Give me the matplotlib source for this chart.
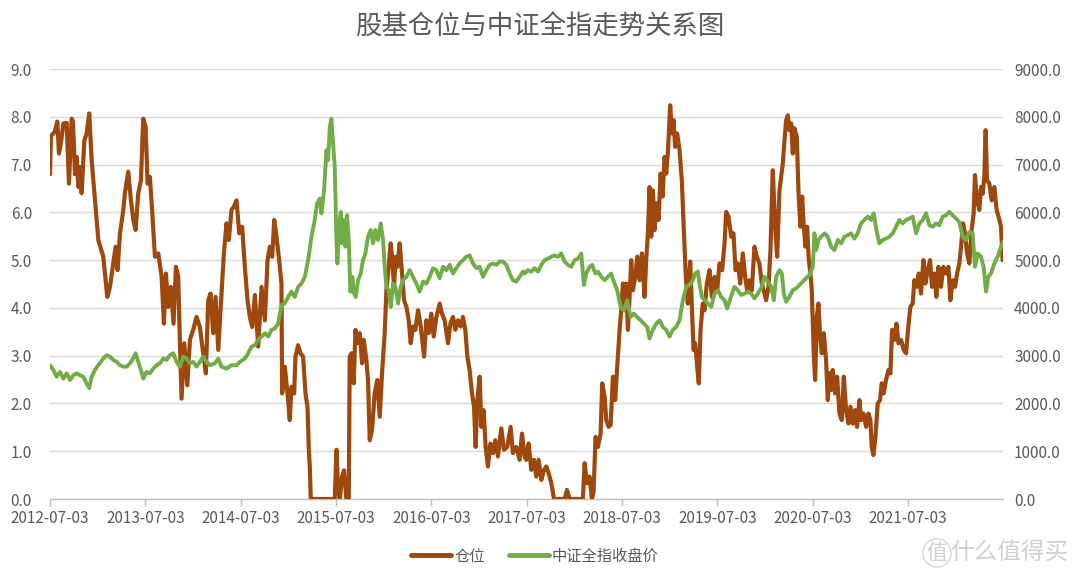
import matplotlib
matplotlib.use("Agg")
import matplotlib.pyplot as plt
from matplotlib.ticker import FormatStrFormatter, FixedLocator

plt.rcParams['font.family'] = ['Noto Sans CJK SC', 'DejaVu Sans']

title = "股基仓位与中证全指走势关系图"
series_names = ["仓位", "中证全指收盘价"]
x_tick_pos = [0, 1, 2, 3, 4, 5, 6, 7, 8, 9]  # years since 2012-07-03
x_tick_labels = ["2012-07-03", "2013-07-03", "2014-07-03", "2015-07-03", "2016-07-03",
                 "2017-07-03", "2018-07-03", "2019-07-03", "2020-07-03", "2021-07-03"]

# 仓位 (left axis) - time in years since 2012-07-03
pos_t = [0.000, 0.010, 0.035, 0.052, 0.077, 0.094, 0.115, 0.140, 0.175, 0.199, 0.227, 0.241, 0.262, 0.280,
         0.297, 0.314, 0.332, 0.360, 0.384, 0.412, 0.437, 0.472, 0.507, 0.559, 0.601, 0.629, 0.664, 0.688,
         0.709, 0.734, 0.769, 0.786, 0.821, 0.849, 0.874, 0.898, 0.926, 0.954, 0.978, 1.003, 1.024, 1.048,
         1.073, 1.101, 1.136, 1.171, 1.195, 1.216, 1.240, 1.268, 1.296, 1.321, 1.345, 1.363, 1.380, 1.408,
         1.440, 1.468, 1.502, 1.537, 1.572, 1.607, 1.635, 1.660, 1.684, 1.712, 1.737, 1.765, 1.799, 1.824,
         1.852, 1.876, 1.904, 1.929, 1.957, 1.985, 2.016, 2.044, 2.072, 2.096, 2.121, 2.149, 2.184, 2.219,
         2.254, 2.282, 2.306, 2.331, 2.352, 2.376, 2.404, 2.428, 2.435,
         2.463, 2.498, 2.515, 2.533, 2.561, 2.575, 2.603, 2.627, 2.655, 2.680, 2.701, 2.715, 2.725, 2.736,
         2.987, 3.005, 3.022, 3.040, 3.064, 3.085, 3.109, 3.134, 3.144, 3.162, 3.186, 3.204, 3.225, 3.249,
         3.274, 3.291, 3.319, 3.336, 3.354, 3.378, 3.406, 3.434, 3.459, 3.483, 3.511, 3.529, 3.546, 3.574,
         3.588, 3.609, 3.626, 3.644, 3.668, 3.693, 3.714, 3.739, 3.763, 3.784, 3.808, 3.833, 3.861, 3.889,
         3.924, 3.948, 3.972, 4.000, 4.025, 4.053, 4.088, 4.112, 4.140, 4.175, 4.200, 4.227, 4.252, 4.280,
         4.308, 4.332, 4.357, 4.378, 4.402, 4.427, 4.448, 4.465, 4.483, 4.507, 4.525, 4.549, 4.570, 4.594,
         4.619, 4.647, 4.671, 4.699, 4.734, 4.762, 4.797, 4.832, 4.856, 4.891, 4.926, 4.951, 4.979,
         4.996, 5.021, 5.049, 5.077, 5.101, 5.126, 5.154, 5.182, 5.206, 5.231, 5.259, 5.287, 5.398, 5.423,
         5.451, 5.590, 5.608, 5.632, 5.660, 5.685, 5.702, 5.723, 5.748, 5.776, 5.793, 5.818, 5.835, 5.860,
         5.881, 5.905, 5.929, 5.950, 5.975, 5.992, 6.010, 6.027, 6.045, 6.062, 6.080, 6.097, 6.115, 6.139,
         6.160, 6.184, 6.209, 6.237, 6.254, 6.272, 6.289, 6.307, 6.324, 6.342, 6.363, 6.384, 6.405, 6.426,
         6.447, 6.464, 6.481, 6.506, 6.523, 6.541, 6.558, 6.579, 6.604, 6.628, 6.649, 6.670, 6.691, 6.716,
         6.733, 6.751, 6.768, 6.789, 6.806, 6.824, 6.848, 6.866, 6.890, 6.918, 6.943, 6.971, 6.999, 7.023,
         7.051, 7.076, 7.093, 7.118, 7.146, 7.170, 7.191, 7.216, 7.240, 7.268, 7.292, 7.313, 7.338, 7.362,
         7.390, 7.414, 7.442, 7.467, 7.495,
         7.512, 7.537, 7.558, 7.582, 7.607, 7.628, 7.652, 7.670, 7.687, 7.705, 7.722, 7.740, 7.757, 7.775,
         7.792, 7.809, 7.834, 7.851, 7.872, 7.890, 7.907, 7.925, 7.942, 7.960, 7.977, 7.991, 8.012, 8.026,
         8.044, 8.061, 8.079, 8.096, 8.117, 8.141, 8.159, 8.176, 8.194, 8.211, 8.236, 8.257, 8.281, 8.306,
         8.327, 8.351, 8.376, 8.397, 8.421, 8.445, 8.466, 8.491, 8.508, 8.533, 8.561, 8.585, 8.606, 8.620,
         8.638, 8.659, 8.683, 8.707, 8.725, 8.746, 8.770, 8.795, 8.816, 8.833, 8.858, 8.879, 8.900, 8.928,
         8.956, 8.980, 9.004, 9.025, 9.050, 9.067, 9.092, 9.113, 9.137, 9.162, 9.183, 9.207, 9.232, 9.252,
         9.277, 9.298, 9.319, 9.347, 9.371, 9.399, 9.424, 9.445, 9.469, 9.494, 9.515, 9.539, 9.557, 9.578,
         9.599, 9.620, 9.644, 9.668, 9.689, 9.703, 9.724, 9.749, 9.766, 9.784, 9.801, 9.815, 9.829, 9.854,
         9.878, 9.906, 9.930, 9.951, 9.976, 9.993]
pos_v = [6.8, 7.6, 7.65, 7.7, 7.9, 7.23, 7.45, 7.86, 7.87, 6.6, 7.96, 7.9, 6.8, 7.16,
         6.53, 6.95, 6.4, 7.5, 7.65, 8.07, 7.09, 6.25, 5.42, 5.07, 4.23, 4.44, 4.93, 5.28,
         4.79, 5.56, 6.05, 6.4, 6.85, 6.25, 5.84, 5.63, 6.4, 6.67, 7.96, 7.79, 6.6, 6.74,
         5.98, 5.07, 5.14, 4.65, 3.67, 4.72, 4.02, 4.44, 3.67, 4.86, 4.65, 3.26, 2.1, 3.26,
         2.38, 3.33, 3.54, 3.81, 3.6, 3.05, 2.63, 4.16, 4.3, 3.47, 4.23, 3.12, 4.3, 5.14,
         5.77, 5.42, 6.05, 6.12, 6.25, 5.56, 5.7, 4.86, 4.16, 3.81, 3.6, 4.27, 3.19, 4.44,
         3.74, 5.0, 5.28, 5.07, 5.84, 5.49, 5.0, 4.51, 2.21,
         2.77, 2.07, 1.65, 2.35, 2.21, 2.98, 3.22, 3.05, 2.98, 2.21, 1.93, 1.03, 0.68, 0.0,
         0.0, 1.03, 0.2, 0.0, 0.47, 0.6, 0.0, 0.0, 2.98, 3.05, 2.42, 3.54, 3.26, 3.47,
         2.84, 3.33, 2.91, 2.49, 1.23, 1.44, 2.21, 2.49, 1.72, 2.63, 3.47, 4.37, 4.72, 5.35,
         5.07, 4.44, 5.07, 4.86, 5.35, 4.72, 4.16, 4.02, 3.74, 3.26, 3.61, 3.54, 3.95, 3.61,
         2.98, 3.74, 3.47, 3.88, 3.4, 3.81, 4.09, 3.88, 3.74, 3.26, 3.67, 3.81, 3.54, 3.74,
         3.61, 3.81, 3.54, 2.98, 2.7, 2.21, 1.93, 1.09, 2.07, 2.56, 1.51, 1.86, 1.09, 0.68,
         1.16, 0.96, 1.23, 0.89, 1.48, 1.03, 1.09, 1.51, 0.96, 1.09, 0.82, 1.37, 0.89,
         0.82, 1.16, 0.61, 0.82, 0.47, 0.82, 0.4, 0.61, 0.68, 0.54, 0.33, 0.0, 0.0, 0.19,
         0.0, 0.0, 0.75, 0.33, 0.47, 0.0, 0.15, 1.3, 1.09, 1.37, 2.42, 2.14, 1.65, 1.51,
         1.55, 2.56, 2.07, 2.77, 3.54, 3.95, 4.51, 3.95, 4.51, 3.54, 4.23, 5.0, 4.37, 4.65,
         5.07, 4.58, 5.14, 4.23, 5.0, 5.56, 6.53, 5.49, 6.46, 5.63, 6.19, 5.84, 6.81, 6.33,
         7.16, 6.81, 7.23, 8.24, 7.65, 7.93, 7.37, 7.65, 7.3, 6.67, 5.63, 4.65, 4.09, 4.97,
         4.02, 3.12, 3.26, 2.77, 2.42, 3.54, 4.09, 3.95, 4.51, 4.79, 4.23, 4.65, 4.37, 4.93,
         4.79, 5.35, 6.01, 5.91, 5.49, 5.56, 4.79, 4.93, 4.51, 5.14, 4.65, 4.37, 4.58, 4.37,
         5.28, 5.07, 4.93, 4.51, 4.3,
         4.16, 4.44, 5.21, 6.88, 5.7, 5.07, 6.46, 6.74, 7.02, 7.51, 7.93, 8.03, 7.72, 7.86,
         7.23, 7.76, 7.58, 6.46, 5.7, 6.33, 5.7, 5.28, 5.7, 5.0, 4.72, 4.37, 3.05, 2.49,
         3.81, 4.09, 3.4, 3.05, 3.47, 2.91, 2.07, 2.63, 2.28, 2.7, 2.21, 2.56, 1.79, 1.65,
         2.56, 1.86, 1.58, 1.93, 1.58, 1.86, 1.51, 2.07, 1.65, 1.79, 1.51, 1.79, 1.65, 1.09,
         0.92, 1.3, 2.0, 2.07, 2.42, 2.21, 2.49, 2.7, 2.63, 3.54, 3.33, 3.67, 3.26, 3.33,
         3.12, 3.05, 3.61, 4.02, 4.09, 4.58, 4.44, 4.72, 4.3, 5.0, 4.51, 4.79, 5.0, 4.44,
         4.72, 4.23, 4.86, 4.44, 4.86, 4.72, 4.86, 4.16, 4.58, 4.44, 4.72, 4.93, 5.28, 5.77,
         5.56, 5.14, 4.93, 5.63, 5.98, 6.78, 6.25, 6.05, 6.53, 6.39, 6.74, 7.72, 6.67, 6.6,
         6.25, 6.53, 6.05, 5.91, 5.7, 5.0]

# 中证全指收盘价 (right axis) - time in years since 2012-07-03
idx_t = [0.000, 0.035, 0.070, 0.105, 0.140, 0.175, 0.210, 0.245, 0.280, 0.314, 0.349, 0.384, 0.412, 0.437,
         0.472, 0.507, 0.559, 0.594, 0.629, 0.664, 0.699, 0.734, 0.769, 0.804, 0.839, 0.863, 0.898, 0.926,
         0.954, 0.978, 1.013, 1.048, 1.083, 1.118, 1.153, 1.188, 1.223, 1.258, 1.293, 1.328, 1.363, 1.398,
         1.433, 1.468, 1.502, 1.537, 1.572, 1.607, 1.642, 1.677, 1.730, 1.765, 1.799, 1.852, 1.904, 1.957,
         1.992, 2.044, 2.079, 2.114, 2.149, 2.184, 2.219, 2.254, 2.289, 2.324, 2.358, 2.393, 2.428,
         2.463, 2.498, 2.533, 2.568, 2.603, 2.638, 2.673, 2.708, 2.743, 2.777, 2.802, 2.830, 2.847, 2.875,
         2.900, 2.917, 2.935, 2.952, 2.970, 2.987, 3.005, 3.015, 3.033, 3.050, 3.064, 3.081, 3.099, 3.116,
         3.134, 3.151, 3.172, 3.190, 3.207, 3.232, 3.260, 3.284, 3.309, 3.336, 3.364, 3.389, 3.413, 3.441,
         3.469, 3.494, 3.511, 3.529, 3.553, 3.574, 3.599, 3.623, 3.651, 3.679, 3.703, 3.738, 3.773, 3.808,
         3.843, 3.878, 3.913, 3.948, 3.983, 4.018, 4.053, 4.088, 4.123, 4.158, 4.193, 4.227, 4.262, 4.297,
         4.332, 4.367, 4.402, 4.437, 4.472, 4.507, 4.542, 4.577, 4.612, 4.647, 4.682, 4.717, 4.752, 4.787,
         4.822, 4.856, 4.891, 4.926, 4.961,
         4.979, 5.014, 5.049, 5.084, 5.119, 5.154, 5.189, 5.224, 5.259, 5.293, 5.328, 5.363, 5.398, 5.433,
         5.468, 5.503, 5.538, 5.573, 5.601, 5.625, 5.660, 5.688, 5.720, 5.748, 5.783, 5.818, 5.853, 5.887,
         5.922, 5.950, 5.985, 6.020, 6.055, 6.090, 6.125, 6.160, 6.195, 6.230, 6.265, 6.289, 6.324, 6.359,
         6.394, 6.429, 6.464, 6.499, 6.534, 6.569, 6.604, 6.639, 6.674, 6.709, 6.744, 6.768, 6.796, 6.813,
         6.838, 6.866, 6.901, 6.936, 6.971, 7.006, 7.041, 7.076, 7.103, 7.138, 7.180, 7.215, 7.250, 7.285,
         7.320, 7.355, 7.390, 7.425, 7.460,
         7.495, 7.530, 7.565, 7.593, 7.617, 7.652, 7.677, 7.698, 7.722, 7.757, 7.792, 7.827, 7.862, 7.897,
         7.932, 7.967, 8.002, 8.019, 8.037, 8.061, 8.089, 8.124, 8.159, 8.194, 8.229, 8.264, 8.299, 8.334,
         8.369, 8.403, 8.438, 8.473, 8.508, 8.543, 8.578, 8.613, 8.641, 8.669, 8.700, 8.735, 8.770, 8.805,
         8.840, 8.875, 8.910, 8.945, 8.980, 9.015, 9.050, 9.085, 9.120, 9.155, 9.190, 9.225, 9.260, 9.294,
         9.329, 9.364, 9.399, 9.434, 9.469, 9.504, 9.539, 9.574, 9.609, 9.644, 9.679, 9.703, 9.731, 9.766,
         9.794, 9.819, 9.843, 9.871, 9.906, 9.941, 9.976, 9.997]
idx_v = [2800, 2700, 2560, 2660, 2520, 2630, 2490, 2590, 2630, 2590, 2560, 2420, 2320, 2560,
         2700, 2800, 2940, 3010, 2980, 2910, 2870, 2800, 2770, 2770, 2840, 2910, 3050, 2870,
         2700, 2520, 2660, 2630, 2730, 2800, 2840, 2940, 2910, 3010, 3050, 2870, 2770, 2980,
         2940, 2840, 2870, 2770, 2870, 2980, 2870, 2800, 2840, 2940, 2770, 2730, 2800, 2800,
         2870, 2940, 3050, 3190, 3220, 3330, 3400, 3470, 3400, 3540, 3570, 3670, 4060,
         4090, 4230, 4340, 4230, 4440, 4510, 4650, 5000, 5490, 5840, 6190, 6290, 5980, 6460,
         7300, 7090, 7790, 7960, 7440, 6950, 5420, 4930, 5700, 6010, 5350, 5840, 5280, 5940,
         5420, 4340, 4650, 4300, 4230, 4580, 4720, 5000, 5140, 5490, 5630, 5350, 5630, 5420,
         5770, 5420, 4860, 4440, 4370, 4020, 4510, 4440, 4090, 4440, 4580, 4650, 4790, 4650,
         4510, 4340, 4550, 4510, 4650, 4830, 4790, 4620, 4860, 4790, 4900, 4720, 4830, 4930,
         5000, 5070, 5100, 4930, 4830, 4860, 4650, 4790, 4900, 4930, 4900, 4970, 4970, 4900,
         4720, 4580, 4550, 4650, 4760,
         4720, 4790, 4760, 4830, 4760, 4900, 5000, 5030, 5070, 5100, 5070, 5140, 4970, 4900,
         4860, 5000, 5030, 5140, 4480, 4720, 4860, 4900, 4720, 4760, 4650, 4580, 4650, 4720,
         4510, 4370, 4020, 3950, 4160, 3810, 3880, 3810, 3740, 3670, 3600, 3360, 3540, 3670,
         3740, 3600, 3540, 3400, 3540, 3600, 3740, 4160, 4440, 4480, 4580, 4720, 4760, 4510,
         4230, 4160, 4090, 4020, 4300, 4370, 4230, 4160, 3990, 4200, 4440, 4370, 4270, 4300,
         4340, 4300, 4200, 4300, 4410,
         4650, 4550, 4440, 4160, 4650, 4790, 4720, 4300, 4130, 4230, 4370, 4410, 4480, 4550,
         4620, 4690, 4860, 5560, 5210, 5420, 5490, 5560, 5490, 5280, 5210, 5420, 5350, 5490,
         5520, 5560, 5450, 5560, 5770, 5840, 5910, 5840, 5980, 5630, 5350, 5420, 5450, 5490,
         5560, 5700, 5840, 5770, 5840, 5870, 5910, 5560, 5770, 5840, 5980, 5730, 5700, 5770,
         5730, 5910, 5940, 6010, 5940, 5870, 5800, 5490, 5420, 5590, 5560, 4860, 5140, 5070,
         4860, 4340, 4650, 4720, 4930, 5070, 5280, 5380]

BROWN = "#9E480E"
GREEN = "#70AD47"
TEXT = "#595959"
GRID = "#D9D9D9"

fig = plt.figure(figsize=(10.8, 5.8), dpi=100)
ax = fig.add_axes([50 / 1080, 1 - 499 / 580, 953 / 1080, 430 / 580])
ax2 = ax.twinx()

l1, = ax.plot(pos_t, pos_v, color=BROWN, lw=3.0, solid_joinstyle="round",
              solid_capstyle="round", label=series_names[0], zorder=3)
l2, = ax2.plot(idx_t, idx_v, color=GREEN, lw=2.8, solid_joinstyle="round",
               solid_capstyle="round", label=series_names[1], zorder=3)

ax.set_xlim(0, max(pos_t[-1], idx_t[-1]))
ax.set_ylim(0, 9)
ax2.set_ylim(0, 9000)
ax.yaxis.set_major_locator(FixedLocator([0, 1, 2, 3, 4, 5, 6, 7, 8, 9]))
ax2.yaxis.set_major_locator(FixedLocator([0, 1000, 2000, 3000, 4000, 5000, 6000, 7000, 8000, 9000]))
ax.yaxis.set_major_formatter(FormatStrFormatter("%.1f"))
ax2.yaxis.set_major_formatter(FormatStrFormatter("%.1f"))
ax.set_xticks(x_tick_pos)
ax.set_xticklabels(x_tick_labels)

ax.grid(axis="y", color=GRID, lw=1.0)
ax.set_axisbelow(True)
for a in (ax, ax2):
    for s in ("top", "left", "right"):
        a.spines[s].set_visible(False)
    a.spines["bottom"].set_visible(False)
ax.spines["bottom"].set_visible(True)
ax.spines["bottom"].set_color("#BFBFBF")
ax.spines["bottom"].set_linewidth(1.0)

ax.tick_params(axis="x", colors="#BFBFBF", labelcolor=TEXT, labelsize=11, length=5, width=1, pad=3)
ax.tick_params(axis="y", length=0, labelcolor=TEXT, labelsize=11, pad=13)
ax2.tick_params(axis="y", length=0, labelcolor=TEXT, labelsize=11, pad=8)

fig.text(0.5, 1 - 27 / 580, title, ha="center", va="center", fontsize=19, color=TEXT)

leg = fig.legend(handles=[l1, l2], labels=series_names, loc="center",
                 bbox_to_anchor=(535 / 1080, 1 - 556 / 580), ncol=2, frameon=False,
                 fontsize=11, handlelength=2.6, handletextpad=0.2, columnspacing=1.6)
for t in leg.get_texts():
    t.set_color(TEXT)
for h in leg.legend_handles:
    h.set_linewidth(3.5)

# watermark
fig.text(937 / 1080, 1 - 553 / 580, "值", ha="center", va="center", fontsize=15,
         color="#CFCFCF",
         bbox=dict(boxstyle="circle,pad=0.15", fc="none", ec="#D8D8D8", lw=1.0))
fig.text(1068 / 1080, 1 - 553 / 580, "什么值得买", ha="right", va="center", fontsize=17,
         color="#CFCFCF")

fig.savefig("out.png", dpi=100)
